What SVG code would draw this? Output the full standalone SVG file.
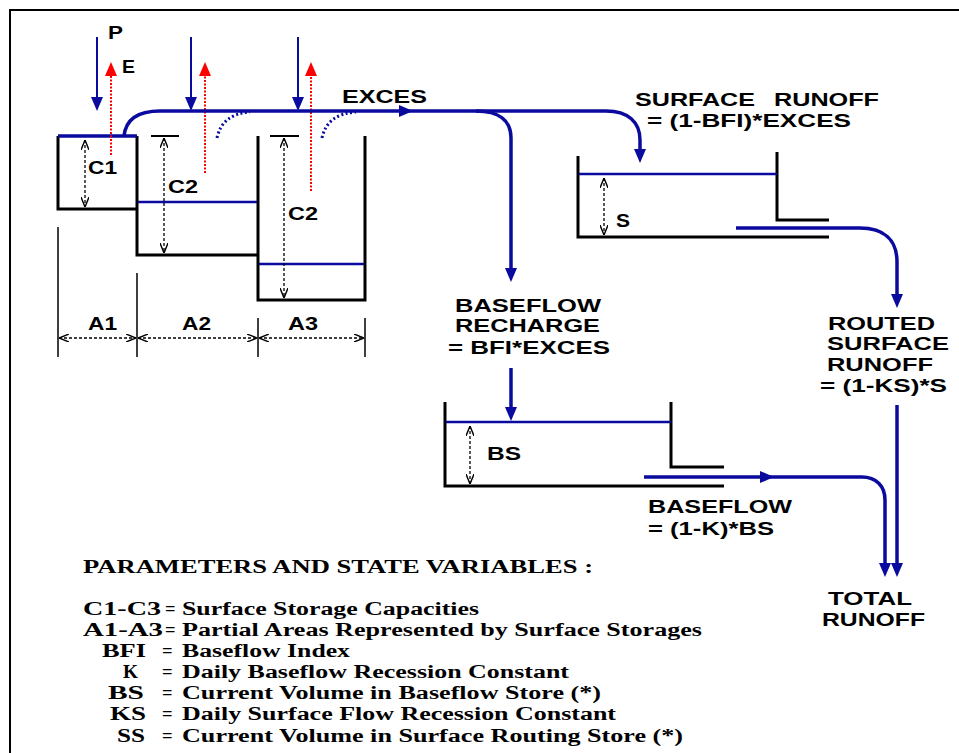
<svg xmlns="http://www.w3.org/2000/svg" width="959" height="753" viewBox="0 0 959 753">
<style>
.wall{fill:none;stroke:#000;stroke-width:3}
.thin{fill:none;stroke:#000;stroke-width:2}
.lvl{fill:none;stroke:#0A0A9E;stroke-width:2.5}
.flow{fill:none;stroke:#0A0A9E;stroke-width:3.5}
.pin{fill:none;stroke:#0A0A9E;stroke-width:2}
.evap{fill:none;stroke:#F00;stroke-width:2;stroke-dasharray:2 1.5}
.dim{fill:none;stroke:#000;stroke-width:1.3;stroke-dasharray:3 2}
.dots{fill:none;stroke:#0A0A9E;stroke-width:3;stroke-dasharray:2 2.5}
.lbl{font-family:"Liberation Sans",Arial,sans-serif;font-weight:bold;font-size:17.5px;fill:#000}
.leg{font-family:"Liberation Serif","Times New Roman",serif;font-weight:bold;font-size:18.5px;fill:#000}
</style>
<defs>
<marker id="ab" viewBox="0 0 14 12" refX="4" refY="6" markerWidth="14" markerHeight="12" markerUnits="userSpaceOnUse" orient="auto"><path d="M0,0 L14,6 L0,12 z" fill="#0A0A9E"/></marker>
<marker id="ar" viewBox="0 0 14 12" refX="4" refY="6" markerWidth="14" markerHeight="12" markerUnits="userSpaceOnUse" orient="auto"><path d="M0,0 L14,6 L0,12 z" fill="#F00"/></marker>
<marker id="ao" viewBox="0 0 10 8" refX="10" refY="4" markerWidth="10" markerHeight="8" markerUnits="userSpaceOnUse" orient="auto-start-reverse"><path d="M0,0 L10,4 L0,8" fill="none" stroke="#000" stroke-width="1.4"/></marker>
</defs>
<rect width="959" height="753" fill="#fff"/>
<g id="frame"><path d="M10,753 V10 H959" class="thin"/></g>

<g id="surface-stores">
<path d="M58,136 V209 H137" class="wall"/>
<path d="M137,136 V255 H258" class="wall"/>
<path d="M258,136 V300 H365 V136" class="wall"/>
<path d="M58,136 H137" class="flow" stroke-width="3"/>
<path d="M138,202 H257" class="lvl" stroke-width="3"/>
<path d="M259,264 H364" class="lvl" stroke-width="3"/>
<path d="M151,136 H179 M270,136 H299" class="thin"/>
</g>

<g id="capacity-dims">
<path d="M85,140 V207" class="dim" marker-start="url(#ao)" marker-end="url(#ao)"/>
<path d="M164,138 V253" class="dim" marker-start="url(#ao)" marker-end="url(#ao)"/>
<path d="M284,138 V298" class="dim" marker-start="url(#ao)" marker-end="url(#ao)"/>
<text class="lbl" x="88" y="174" textLength="29" lengthAdjust="spacingAndGlyphs">C1</text>
<text class="lbl" x="168" y="193" textLength="30" lengthAdjust="spacingAndGlyphs">C2</text>
<text class="lbl" x="288" y="220" textLength="30" lengthAdjust="spacingAndGlyphs">C2</text>
</g>

<g id="area-dims">
<path d="M58,227 V357 M137,273 V357 M258,318 V357 M365,318 V357" fill="none" stroke="#000" stroke-width="1.5"/>
<path d="M59,338 H136" class="dim" marker-start="url(#ao)" marker-end="url(#ao)"/>
<path d="M138,338 H257" class="dim" marker-start="url(#ao)" marker-end="url(#ao)"/>
<path d="M259,338 H364" class="dim" marker-start="url(#ao)" marker-end="url(#ao)"/>
<text class="lbl" x="88" y="330" textLength="29" lengthAdjust="spacingAndGlyphs">A1</text>
<text class="lbl" x="182" y="330" textLength="29" lengthAdjust="spacingAndGlyphs">A2</text>
<text class="lbl" x="288" y="330" textLength="30" lengthAdjust="spacingAndGlyphs">A3</text>
</g>

<g id="inputs">
<path d="M97,37 V101" class="pin" marker-end="url(#ab)"/>
<path d="M191,37 V101" class="pin" marker-end="url(#ab)"/>
<path d="M298,37 V101" class="pin" marker-end="url(#ab)"/>
<path d="M111,155 V72" class="evap" marker-end="url(#ar)"/>
<path d="M205,173 V72" class="evap" marker-end="url(#ar)"/>
<path d="M311,191 V72" class="evap" marker-end="url(#ar)"/>
<text class="lbl" x="108" y="39" textLength="15" lengthAdjust="spacingAndGlyphs">P</text>
<text class="lbl" x="122" y="73" textLength="13" lengthAdjust="spacingAndGlyphs">E</text>
</g>

<g id="connectors">
<path d="M124,136 C126,118 140,111 160,111 H403" class="flow" stroke-width="3" marker-end="url(#ab)"/>
<path d="M403,111 H606 C628,111 640,122 640,140 V153" class="flow" marker-end="url(#ab)"/>
<path d="M476,111 C498,111 511,120 511,138 V272" class="flow" marker-end="url(#ab)"/>
<path d="M217,138 Q222,114 250,112" class="dots"/>
<path d="M322,138 Q327,114 356,112" class="dots"/>
<path d="M511,368 V411" class="flow" marker-end="url(#ab)"/>
<path d="M736,228 H860 C884,228 897,240 897,262 V298" class="flow" marker-end="url(#ab)"/>
<path d="M897,405 V567" class="flow" marker-end="url(#ab)"/>
<path d="M644,477 H764" class="flow" marker-end="url(#ab)"/>
<path d="M760,477 H862 C876,477 885,486 885,500 V567" class="flow" marker-end="url(#ab)"/>
</g>

<g id="exces-label">
<text class="lbl" x="342" y="103" textLength="85" lengthAdjust="spacingAndGlyphs">EXCES</text>
</g>

<g id="surface-routing-store">
<path d="M578,156 V237 H829" class="wall"/>
<path d="M777,152 V220 H829" class="wall"/>
<path d="M579,174 H777" class="lvl"/>
<path d="M604,178 V235" class="dim" marker-start="url(#ao)" marker-end="url(#ao)"/>
<text class="lbl" x="616" y="227" textLength="14" lengthAdjust="spacingAndGlyphs">S</text>
</g>

<g id="surface-runoff-label">
<text class="lbl" x="635" y="106" textLength="120" lengthAdjust="spacingAndGlyphs">SURFACE</text>
<text class="lbl" x="774" y="106" textLength="105" lengthAdjust="spacingAndGlyphs">RUNOFF</text>
<text class="lbl" x="647" y="127" textLength="204" lengthAdjust="spacingAndGlyphs">= (1-BFI)*EXCES</text>
</g>

<g id="baseflow-recharge-label">
<text class="lbl" x="455" y="312" textLength="146" lengthAdjust="spacingAndGlyphs">BASEFLOW</text>
<text class="lbl" x="455" y="332" textLength="145" lengthAdjust="spacingAndGlyphs">RECHARGE</text>
<text class="lbl" x="448" y="354" textLength="162" lengthAdjust="spacingAndGlyphs">= BFI*EXCES</text>
</g>

<g id="baseflow-store">
<path d="M445,402 V486 H724" class="wall"/>
<path d="M671,402 V467 H724" class="wall"/>
<path d="M446,422 H671" class="lvl"/>
<path d="M470,426 V484" class="dim" marker-start="url(#ao)" marker-end="url(#ao)"/>
<text class="lbl" x="487" y="460" textLength="34" lengthAdjust="spacingAndGlyphs">BS</text>
</g>

<g id="routed-label">
<text class="lbl" x="828" y="330" textLength="107" lengthAdjust="spacingAndGlyphs">ROUTED</text>
<text class="lbl" x="827" y="350" textLength="122" lengthAdjust="spacingAndGlyphs">SURFACE</text>
<text class="lbl" x="827" y="371" textLength="106" lengthAdjust="spacingAndGlyphs">RUNOFF</text>
<text class="lbl" x="820" y="392" textLength="127" lengthAdjust="spacingAndGlyphs">= (1-KS)*S</text>
</g>

<g id="baseflow-label">
<text class="lbl" x="648" y="513" textLength="144" lengthAdjust="spacingAndGlyphs">BASEFLOW</text>
<text class="lbl" x="648" y="535" textLength="126" lengthAdjust="spacingAndGlyphs">= (1-K)*BS</text>
</g>

<g id="total-runoff">
<text class="lbl" x="828" y="605" textLength="84" lengthAdjust="spacingAndGlyphs">TOTAL</text>
<text class="lbl" x="822" y="626" textLength="103" lengthAdjust="spacingAndGlyphs">RUNOFF</text>
</g>

<g id="legend">
<text class="leg" x="83" y="573" textLength="510" lengthAdjust="spacingAndGlyphs">PARAMETERS AND STATE VARIABLES :</text>
<text class="leg" x="83" y="615" textLength="78" lengthAdjust="spacingAndGlyphs">C1-C3</text>
<text class="leg" x="165" y="615">=</text>
<text class="leg" x="182" y="615" textLength="297" lengthAdjust="spacingAndGlyphs">Surface Storage Capacities</text>
<text class="leg" x="83" y="636" textLength="80" lengthAdjust="spacingAndGlyphs">A1-A3</text>
<text class="leg" x="165" y="636">=</text>
<text class="leg" x="182" y="636" textLength="520" lengthAdjust="spacingAndGlyphs">Partial Areas Represented by Surface Storages</text>
<text class="leg" x="102" y="657" textLength="44" lengthAdjust="spacingAndGlyphs">BFI</text>
<text class="leg" x="162" y="657">=</text>
<text class="leg" x="182" y="657" textLength="168" lengthAdjust="spacingAndGlyphs">Baseflow Index</text>
<text class="leg" x="123" y="678" textLength="15" lengthAdjust="spacingAndGlyphs">K</text>
<text class="leg" x="162" y="678">=</text>
<text class="leg" x="182" y="678" textLength="387" lengthAdjust="spacingAndGlyphs">Daily Baseflow Recession Constant</text>
<text class="leg" x="108" y="699" textLength="36" lengthAdjust="spacingAndGlyphs">BS</text>
<text class="leg" x="162" y="699">=</text>
<text class="leg" x="182" y="699" textLength="419" lengthAdjust="spacingAndGlyphs">Current Volume in Baseflow Store (*)</text>
<text class="leg" x="110" y="720" textLength="36" lengthAdjust="spacingAndGlyphs">KS</text>
<text class="leg" x="162" y="720">=</text>
<text class="leg" x="182" y="720" textLength="434" lengthAdjust="spacingAndGlyphs">Daily Surface Flow Recession Constant</text>
<text class="leg" x="117" y="742" textLength="28" lengthAdjust="spacingAndGlyphs">SS</text>
<text class="leg" x="162" y="742">=</text>
<text class="leg" x="182" y="742" textLength="501" lengthAdjust="spacingAndGlyphs">Current Volume in Surface Routing Store (*)</text>
</g>
</svg>
